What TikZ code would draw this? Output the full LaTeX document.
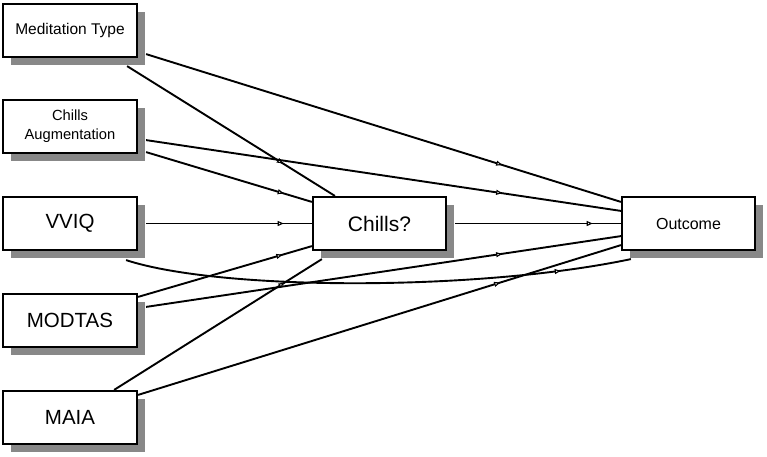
\documentclass[tikz,border=0pt]{standalone}
\usepackage{fontspec}
\setmainfont{Liberation Sans}
\usetikzlibrary{shadows,calc,arrows.meta,decorations.markings,backgrounds}
\definecolor{shadowgray}{HTML}{888888}
\begin{document}
\begin{tikzpicture}[x=1pt,y=-1pt,
  box/.style={draw=black, line width=2.2pt, fill=white, minimum width=134pt, minimum height=53pt,
    inner sep=0pt, align=center,
    drop shadow={shadow xshift=8pt, shadow yshift=-8pt, fill=shadowgray, opacity=1}},
  link/.style={line width=1.9pt, draw=black},
  tipat/.style={decoration={markings, mark=at position #1 with {\arrow{Triangle[fill=white, length=6pt, width=5pt, line width=1.1pt]}}}, postaction={decorate}},
]
\useasboundingbox (0,0) rectangle (767,456);

\node[box, font=\fontsize{15.5}{18}\selectfont] (med) at (70,30.5) {Meditation Type};
\node[box, font=\fontsize{14.7}{19}\selectfont] (aug) at (70,126.5) {Chills\\Augmentation};
\node[box, font=\fontsize{20.5}{24}\selectfont] (vviq) at (70,223.5) {VVIQ};
\node[box, font=\fontsize{20.5}{24}\selectfont] (modtas) at (70,320.5) {MODTAS};
\node[box, font=\fontsize{20.5}{24}\selectfont] (maia) at (70,417.5) {MAIA};
\node[box, minimum width=133pt, font=\fontsize{21}{24}\selectfont] (chills) at (379.5,223.5) {Chills?};
\node[box, minimum width=133pt, font=\fontsize{16}{19}\selectfont] (outcome) at (688.5,223.5) {Outcome};

\coordinate (cs) at ($(vviq.south east)+(-12,9)$);
\coordinate (ce) at ($(outcome.south west)+(10,8)$);

\begin{scope}[on background layer]
\draw[link, tipat=0.75] ($(med.south east)+(8,-4)$) -- ($(outcome.north west)+(0,6)$);
\draw[link, tipat=0.75] ($(med.south east)+(-11,8)$) -- ($(chills.north west)+(23,0)$);
\draw[link, tipat=0.75] ($(aug.south east)+(8,-14)$) -- ($(outcome.north west)+(0,15)$);
\draw[link, tipat=0.83] ($(aug.south east)+(8,-2)$) -- ($(chills.north west)+(0,6)$);
\draw[link, tipat=0.83] ($(vviq.east)+(8,0)$) -- (chills.west);
\draw[link, tipat=0.86] (cs) .. controls ($(cs)+(95,31)$) and ($(ce)+(-152,32)$) .. (ce);
\draw[link, tipat=0.83] ($(chills.east)+(8,0)$) -- (outcome.west);
\draw[link, tipat=0.83] ($(modtas.north east)+(0,4)$) -- ($(chills.south west)+(0,-5)$);
\draw[link, tipat=0.75] ($(modtas.north east)+(8,14)$) -- ($(outcome.south west)+(0,-15)$);
\draw[link, tipat=0.82] ($(maia.north east)+(-24,0)$) -- ($(chills.south west)+(10,8)$);
\draw[link, tipat=0.75] ($(maia.north east)+(0,5)$) -- ($(outcome.south west)+(0,-6)$);
\end{scope}
\end{tikzpicture}
\end{document}
